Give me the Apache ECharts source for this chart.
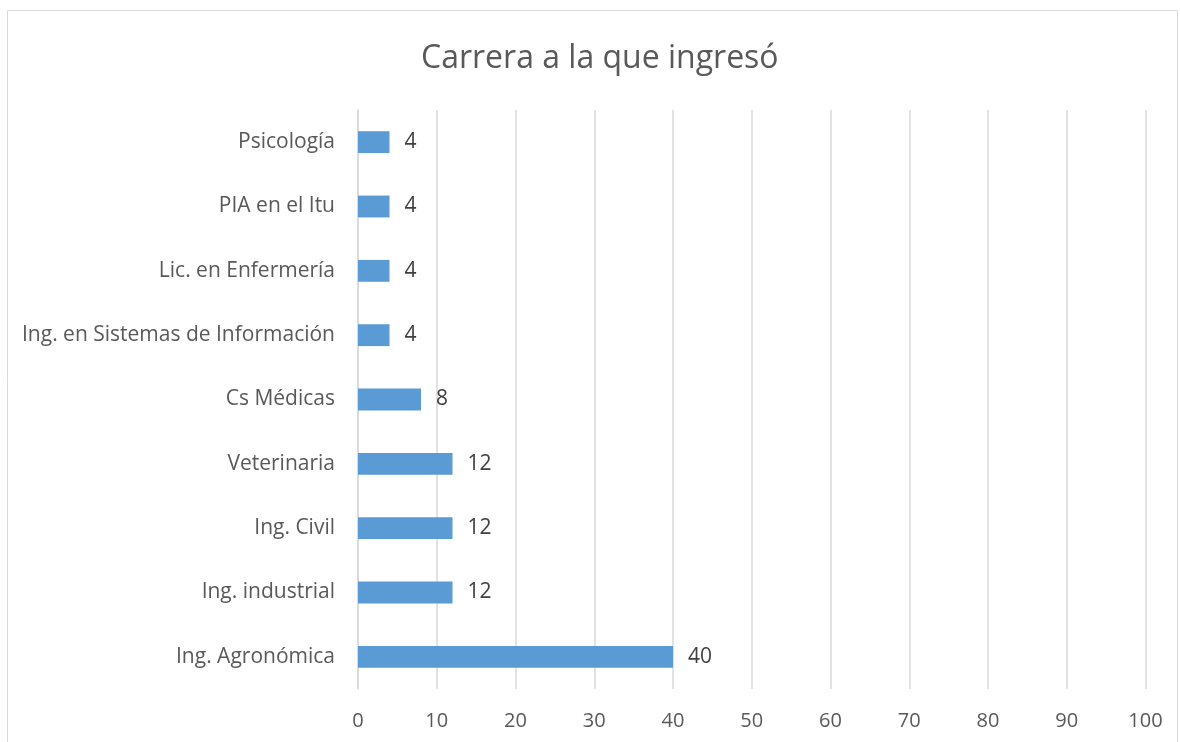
<!DOCTYPE html>
<html>
<head>
<meta charset="utf-8">
<script src="https://cdn.jsdelivr.net/npm/echarts@6/dist/echarts.min.js"></script>
<style>
html,body{margin:0;padding:0;background:#fff;}
#c{width:1180px;height:742px;}
</style>
</head>
<body>
<div id="c"></div>
<script>
const titleText = "Carrera a la que ingresó";
const categories = ["Ing. Agronómica","Ing. industrial","Ing. Civil","Veterinaria","Cs Médicas","Ing. en Sistemas de Información","Lic. en Enfermería","PIA en el Itu","Psicología"];
const values = [40,12,12,12,8,4,4,4,4];
const xTicks = {min:0,max:100,interval:10};

const FONT = "'Open Sans', 'Liberation Sans', sans-serif";
const chart = echarts.init(document.getElementById('c'), null, {renderer:'canvas'});
chart.setOption({
  animation:false,
  backgroundColor:'#ffffff',
  graphic:[{type:'rect',shape:{x:7.5,y:10.5,width:1170,height:800},style:{fill:'none',stroke:'#d9d9d9',lineWidth:1},silent:true}],
  title:{text:titleText,left:416,top:38,textStyle:{fontFamily:FONT,fontSize:32,fontWeight:'normal',color:'#595959'}},
  grid:{left:358,right:34.5,top:110,bottom:53,containLabel:false},
  xAxis:{type:'value',min:xTicks.min,max:xTicks.max,interval:xTicks.interval,
    axisLine:{show:false},axisTick:{show:false},
    splitLine:{show:true,lineStyle:{color:'#d9d9d9',width:1.5}},
    axisLabel:{fontFamily:FONT,fontSize:20,color:'#595959',margin:22}},
  yAxis:{type:'category',data:categories,
    axisLine:{show:true,lineStyle:{color:'#d9d9d9',width:1.5}},axisTick:{show:false},
    axisLabel:{fontFamily:FONT,fontSize:21,color:'#595959',margin:23}},
  series:[{type:'bar',data:values,barCategoryGap:'66%',
    itemStyle:{color:'#5b9bd5'},
    label:{show:true,position:'right',distance:15,fontFamily:FONT,fontSize:21,color:'#404040'}}]
});
</script>
</body>
</html>
